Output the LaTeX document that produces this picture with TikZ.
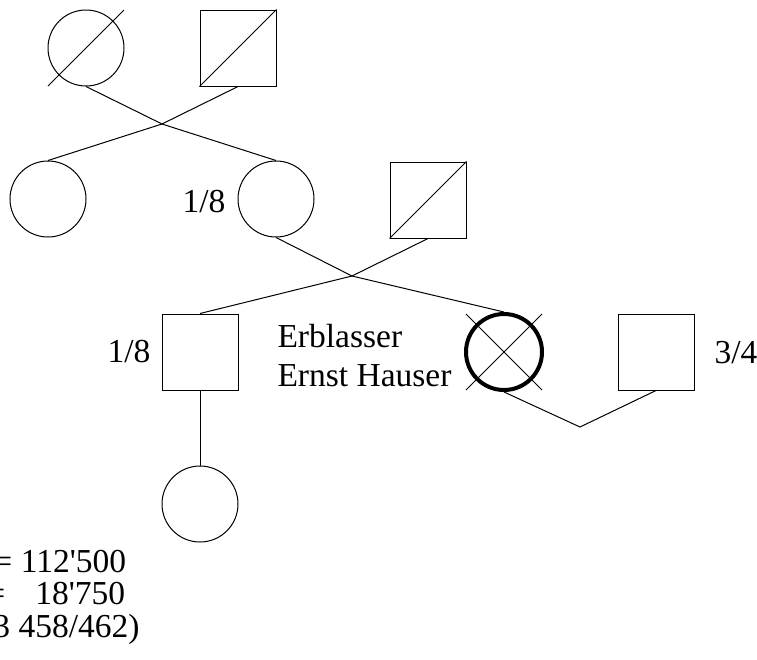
\documentclass[tikz,border=0pt]{standalone}
\usepackage{fontspec}
\newfontfamily\pedfont{Liberation Serif}
\usetikzlibrary{positioning,calc}

\tikzset{
  female/.style={draw,circle,minimum size=76pt,inner sep=0pt},
  male/.style={draw,rectangle,minimum size=76pt,inner sep=0pt},
  legator/.style={female,line width=4pt},
  share/.style={font=\pedfont\fontsize{33.5}{39}\selectfont,inner sep=0pt,anchor=base west},
}

\begin{document}
\begin{tikzpicture}[x=1pt,y=-1pt,line width=1pt]
    \useasboundingbox (0,0) rectangle (757,659);

    % grandparents, both dead
    \node[female] (gm) at (86,48) {};
    \node[male] (gf) at (238,48) {};
    \draw ($(gm.center)+(-38pt,-38pt)$) -- ($(gm.center)+(38pt,38pt)$);
    \draw (gf.south west) -- (gf.north east);

    % their children and the father
    \node[female] (aunt) at (48,199) {};
    \node[female] (mother) at (276,199) {};
    \node[male] (father) at (428,200) {};
    \draw (father.south west) -- (father.north east);

    \coordinate (x1) at (162,124);
    \draw (gm.south) -- (x1) -- (mother.north);
    \draw (gf.south) -- (x1) -- (aunt.north);

    % the legator, brother and spouse
    \node[male] (brother) at (200,352) {};
    \node[legator] (erbl) at (504,352) {};
    \draw ($(erbl.center)+(-38pt,38pt)$) -- ($(erbl.center)+(38pt,-38pt)$);
    \draw ($(erbl.center)+(-38pt,-38pt)$) -- ($(erbl.center)+(38pt,38pt)$);
    \node[male] (spouse) at (656,352) {};

    \coordinate (x2) at (352,276);
    \draw (mother.south) -- (x2) -- (erbl.north);
    \draw (father.south) -- (x2) -- (brother.north);

    \coordinate (v1) at (580,427);
    \draw (erbl.south) -- (v1) -- (spouse.south);

    % niece
    \node[female] (niece) at (200,504) {};
    \draw (brother.south) -- (niece.north);

    % shares and names
    \node[share] (sh1) at (182,212) {1/8};
    \node[share] (sh2) at (107,362) {1/8};
    \node[share] (sh3) at (714,363) {3/4};
    \node[share] (name1) at (277,347) {Erblasser};
    \node[share] (name2) at (277,386) {Ernst Hauser};

    % amounts
    \node[share] (sum1) at (-7,572) {= 112'500};
    \node[share] (sum2) at (-14,604) {=\hspace*{30pt}18'750};
    \node[share] (sum3) at (-7,637) {3 458/462)};

\end{tikzpicture}
\end{document}
